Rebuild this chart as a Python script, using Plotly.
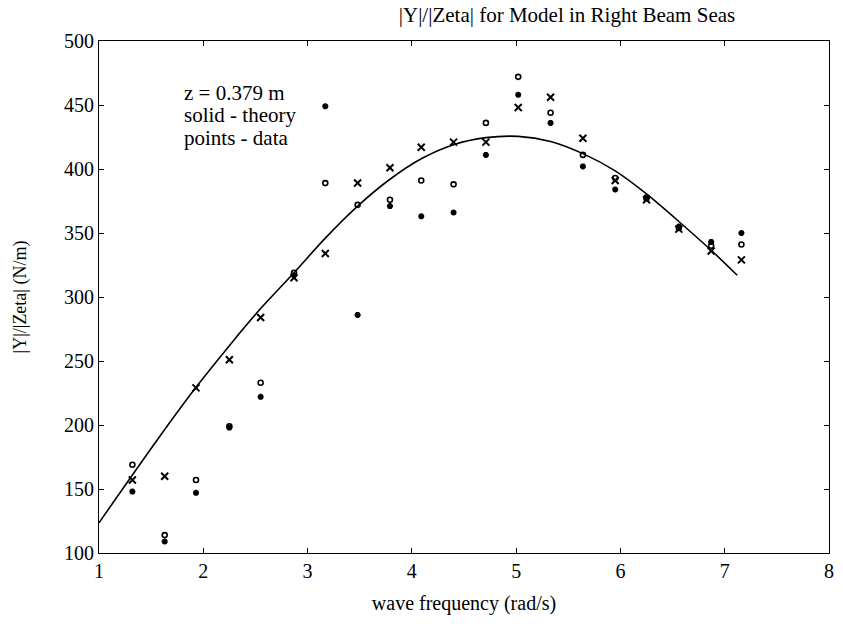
import plotly.graph_objects as go

# wave frequencies (rad/s) of measured data
freq = [1.32, 1.63, 1.93, 2.25, 2.55, 2.87, 3.17, 3.48, 3.79, 4.09,
        4.40, 4.71, 5.02, 5.33, 5.64, 5.95, 6.25, 6.56, 6.87, 7.16]
# three data series (marked x, o, *)
data_x = [157, 160, 229, 251, 284, 315, 334, 389, 401, 417,
          421, 421, 448, 456, 424, 391, 376, 353, 336, 329]
data_o = [169, 114, 157, 199, 233, 319, 389, 372, 376, 391,
          388, 436, 472, 444, 411, 393, 377, 354, 340, 341]
data_star = [148, 109, 147, 198, 222, 317, 449, 286, 371, 363,
             366, 411, 458, 436, 402, 384, 378, 355, 343, 350]

# theory curve
theory_x = [1.0, 1.32, 1.63, 1.93, 2.25, 2.55, 2.87, 3.17, 3.48, 3.79,
            4.09, 4.40, 4.71, 5.02, 5.33, 5.64, 5.95, 6.25, 6.56, 6.87, 7.12]
theory_y = [123.6, 161, 196.5, 229.5, 262, 291, 319, 346, 371, 392,
            408, 419, 424.5, 425.5, 421.5, 412, 398.5, 380.5, 359, 336.5, 317]

font_family = "Liberation Serif, Times New Roman, serif"

fig = go.Figure()
fig.add_trace(go.Scatter(x=theory_x, y=theory_y, mode="lines",
                         line=dict(color="black", width=1.6, shape="spline", smoothing=0.8),
                         showlegend=False, hoverinfo="skip"))
fig.add_trace(go.Scatter(x=freq, y=data_x, mode="markers",
                         marker=dict(symbol="x-thin-open", size=7, color="black",
                                     line=dict(color="black", width=2)),
                         showlegend=False))
fig.add_trace(go.Scatter(x=freq, y=data_o, mode="markers",
                         marker=dict(symbol="circle-open", size=5, color="black",
                                     line=dict(color="black", width=1.6)),
                         showlegend=False))
fig.add_trace(go.Scatter(x=freq, y=data_star, mode="markers",
                         marker=dict(symbol="asterisk-open", size=5, color="black",
                                     line=dict(color="black", width=2)),
                         showlegend=False))

notes = ["z = 0.379 m", "solid - theory", "points - data"]
note_y = [459, 442, 424]
for t, yy in zip(notes, note_y):
    fig.add_annotation(x=1.8, y=yy, xref="x", yref="y", text=t, showarrow=False,
                       xanchor="left", yanchor="middle",
                       font=dict(family=font_family, size=21, color="black"))

axis_common = dict(showline=True, linecolor="black", linewidth=1, mirror="ticks",
                   ticks="inside", ticklen=5, tickcolor="black", showgrid=False,
                   zeroline=False,
                   tickfont=dict(family=font_family, size=20, color="black"))

fig.update_xaxes(range=[1, 8], dtick=1, tick0=1,
                 title=dict(text="wave frequency (rad/s)",
                            font=dict(family=font_family, size=20, color="black"),
                            standoff=14),
                 **axis_common)
fig.update_yaxes(range=[100, 500], dtick=50, tick0=100,
                 title=dict(text="|Y|/|Zeta| (N/m)",
                            font=dict(family=font_family, size=18, color="black"),
                            standoff=32),
                 **axis_common)

fig.update_layout(
    width=843, height=630,
    margin=dict(l=99, r=9, t=41, b=77),
    paper_bgcolor="white", plot_bgcolor="white",
    title=dict(text="|Y|/|Zeta| for Model in Right Beam Seas",
               x=567 / 843, xanchor="center", y=1 - 15 / 630, yanchor="middle",
               font=dict(family=font_family, size=21, color="black")),
)

fig.write_html("out.html", config={"displayModeBar": False},
               post_script="document.body.style.margin='0';")
